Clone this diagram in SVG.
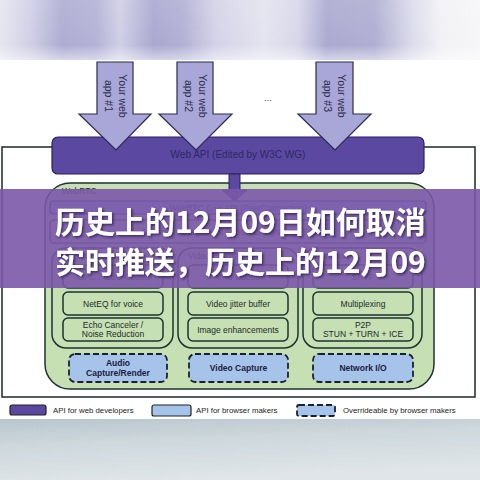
<svg xmlns="http://www.w3.org/2000/svg" width="480" height="480" viewBox="0 0 480 480">
<defs>
<linearGradient id="topband" x1="0" y1="0" x2="480" y2="0" gradientUnits="userSpaceOnUse">
<stop offset="0" stop-color="#e6e6f0"/>
<stop offset="0.06" stop-color="#d2d1e6"/>
<stop offset="0.13" stop-color="#aeacd2"/>
<stop offset="0.2" stop-color="#b4b2d6"/>
<stop offset="0.25" stop-color="#d0cfe6"/>
<stop offset="0.32" stop-color="#aaa8d0"/>
<stop offset="0.38" stop-color="#b2b0d4"/>
<stop offset="0.45" stop-color="#d4d3e8"/>
<stop offset="0.55" stop-color="#e4e4f0"/>
<stop offset="0.62" stop-color="#d8d7ea"/>
<stop offset="0.68" stop-color="#acaad0"/>
<stop offset="0.78" stop-color="#b0aed2"/>
<stop offset="0.86" stop-color="#dcdcec"/>
<stop offset="0.92" stop-color="#f2f2f6"/>
<stop offset="1" stop-color="#f6f6f8"/>
</linearGradient>
<linearGradient id="topfade" x1="0" y1="0" x2="0" y2="1">
<stop offset="0" stop-color="#ffffff" stop-opacity="0.1"/>
<stop offset="0.75" stop-color="#ffffff" stop-opacity="0"/>
<stop offset="1" stop-color="#ffffff" stop-opacity="0.5"/>
</linearGradient>
<linearGradient id="botband" x1="0" y1="0" x2="0.3" y2="1">
<stop offset="0" stop-color="#b7c6cd"/>
<stop offset="0.4" stop-color="#cdd7dc"/>
<stop offset="1" stop-color="#dfe5e8"/>
</linearGradient>
<filter id="shadow" x="-5%" y="-20%" width="110%" height="140%">
<feDropShadow dx="1.5" dy="1.5" stdDeviation="1" flood-color="#2a1850" flood-opacity="0.8"/>
</filter>
<style>
.lbl{font-family:"Liberation Sans",Arial,sans-serif;font-size:8.5px;fill:#1e2a2a;text-anchor:middle}
.bold{font-weight:bold;fill:#1a2040}
.eng{font-family:"Liberation Sans",Arial,sans-serif;font-size:8.5px;fill:#1e2a2a}
.box{fill:#c6e0b4;stroke:#1d3232;stroke-width:1.5}
.item{fill:#c6e0b4;stroke:#1d3232;stroke-width:1.5}
.dash{fill:#a6c3ea;stroke:#1a2030;stroke-width:1.8;stroke-dasharray:6 3}
.arrow{fill:#a9a7d8;stroke:#2b2a55;stroke-width:1.2}
.atxt{font-family:"Liberation Sans",Arial,sans-serif;font-size:10.5px;fill:#2a2a48;text-anchor:middle}
.leg{font-family:"Liberation Sans",Arial,sans-serif;font-size:7.8px;fill:#222}
.cjk{font-family:"Noto Sans CJK SC",sans-serif;font-weight:bold;font-size:30px;fill:#ffffff}
</style>
</defs>
<rect width="480" height="480" fill="#ffffff"/>
<rect x="0" y="0" width="480" height="60" fill="url(#topband)"/>
<rect x="0" y="0" width="480" height="60" fill="url(#topfade)"/>

<rect id="outer" x="2" y="147" width="473" height="250" fill="#ffffff" stroke="#1e2626" stroke-width="1.5"/>

<g id="webapi">
<rect x="52" y="137" width="372" height="37" rx="6" fill="#5b48a0" stroke="#2a2060" stroke-width="1.2"/>
<text x="238" y="158" font-family="Liberation Sans, Arial, sans-serif" font-size="10" fill="#2e2866" text-anchor="middle">Web API (Edited by W3C WG)</text>
</g>

<g id="webrtc">
<rect class="box" x="45" y="183" width="389" height="206" rx="25"/>
<text class="eng" x="62" y="194" font-size="8">WebRTC</text>
</g>

<g id="cppapi">
<rect x="50" y="201" width="376" height="13" rx="3" fill="#a6c3ea" stroke="#1d3232" stroke-width="1.2"/>
<text class="lbl" x="238" y="210.5">WebRTC C++ API (PeerConnection)</text>
</g>
<g id="session">
<rect x="50" y="220" width="376" height="23" rx="4" fill="#c6e0b4" stroke="#1d3232" stroke-width="1.2"/>
<text class="lbl" x="238" y="235">Session management / Abstract signaling (Session)</text>
</g>

<g id="voice">
<rect class="box" x="52" y="248" width="121" height="100" rx="14"/>
<text class="eng" x="62" y="259">Voice Engine</text>
</g>
<g id="video">
<rect class="box" x="178" y="248" width="120" height="100" rx="14"/>
<text class="eng" x="188" y="259">Video Engine</text>
</g>
<g id="transport">
<rect class="box" x="303" y="248" width="119" height="100" rx="14"/>
<text class="eng" x="313" y="259">Transport</text>
</g>

<g id="isac"><rect class="item" x="63" y="265" width="100" height="23" rx="5"/><text class="lbl" x="113" y="279.5">iSAC / iLBC Codec</text></g>
<g id="neteq"><rect class="item" x="63" y="292" width="100" height="23" rx="5"/><text class="lbl" x="113" y="306.5">NetEQ for voice</text></g>
<g id="echo"><rect class="item" x="63" y="318" width="100" height="23" rx="5"/><text class="lbl" x="113" y="327.5">Echo Canceler /</text><text class="lbl" x="113" y="337">Noise Reduction</text></g>

<g id="vp8"><rect class="item" x="188" y="265" width="100" height="23" rx="5"/><text class="lbl" x="238" y="279.5">VP8 Codec</text></g>
<g id="jitter"><rect class="item" x="188" y="292" width="100" height="23" rx="5"/><text class="lbl" x="238" y="306.5">Video jitter buffer</text></g>
<g id="image"><rect class="item" x="188" y="318" width="100" height="23" rx="5"/><text class="lbl" x="238" y="332.5">Image enhancements</text></g>

<g id="srtp"><rect class="item" x="313" y="265" width="100" height="23" rx="5"/><text class="lbl" x="363" y="279.5">SRTP</text></g>
<g id="mux"><rect class="item" x="313" y="292" width="100" height="23" rx="5"/><text class="lbl" x="363" y="306.5">Multiplexing</text></g>
<g id="p2p"><rect class="item" x="313" y="318" width="100" height="23" rx="5"/><text class="lbl" x="363" y="327.5">P2P</text><text class="lbl" x="363" y="337">STUN + TURN + ICE</text></g>

<g id="audiocap"><rect class="dash" x="69" y="354" width="98" height="28" rx="6"/><text class="lbl bold" x="118" y="366">Audio</text><text class="lbl bold" x="118" y="375.5">Capture/Render</text></g>
<g id="videocap"><rect class="dash" x="189" y="354" width="99" height="28" rx="6"/><text class="lbl bold" x="238.5" y="371">Video Capture</text></g>
<g id="netio"><rect class="dash" x="313" y="354" width="100" height="28" rx="6"/><text class="lbl bold" x="363" y="371">Network I/O</text></g>

<g id="connectors">
<path d="M229,174 L240,174 L240,190 L247,190 L234.5,201 L222,190 L229,190 Z" fill="#5b48a0" stroke="#2a2060" stroke-width="1"/>
</g>

<g id="app1">
<path class="arrow" d="M97,62 L133,62 L133,114 L151,114 L116,150 L79,114 L97,114 Z"/>
<g transform="translate(115,96) rotate(90)"><text class="atxt" x="0" y="-4">Your web</text><text class="atxt" x="0" y="10">app #1</text></g>
</g>
<g id="app2">
<path class="arrow" d="M177,62 L213,62 L213,114 L232,114 L196,150 L159,114 L177,114 Z"/>
<g transform="translate(195,96) rotate(90)"><text class="atxt" x="0" y="-4">Your web</text><text class="atxt" x="0" y="10">app #2</text></g>
</g>
<g id="app3">
<path class="arrow" d="M316,62 L353,62 L353,114 L371,114 L335,150 L298,114 L316,114 Z"/>
<g transform="translate(334,96) rotate(90)"><text class="atxt" x="0" y="-4">Your web</text><text class="atxt" x="0" y="10">app #3</text></g>
</g>
<text x="268" y="101" font-family="Liberation Sans, Arial, sans-serif" font-size="9" fill="#333" text-anchor="middle">...</text>

<g id="legend">
<rect x="10" y="405" width="36" height="10" rx="2" fill="#5b48a0" stroke="#222" stroke-width="1.2"/>
<text class="leg" x="53" y="413">API for web developers</text>
<rect x="152" y="405" width="39" height="11" rx="2" fill="#a6c3ea" stroke="#222" stroke-width="1.2"/>
<text class="leg" x="196" y="413">API for browser makers</text>
<rect class="dash" x="297" y="405" width="38" height="11" rx="2"/>
<text class="leg" x="343" y="413">Overrideable by browser makers</text>
</g>

<rect x="0" y="419" width="480" height="61" fill="url(#botband)"/>

<rect x="0" y="189" width="480" height="99" fill="#7a58a8" fill-opacity="0.9"/>
<g filter="url(#shadow)">
<text class="cjk" x="55" y="233">历史上的12月09日如何取消</text>
<text class="cjk" x="55" y="273">实时推送，历史上的12月09</text>
</g>
</svg>
